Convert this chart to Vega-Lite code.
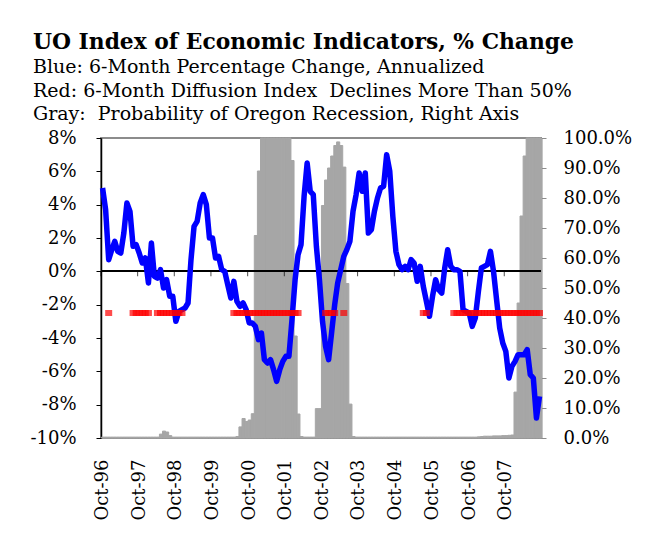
{
  "$schema": "https://vega.github.io/schema/vega-lite/v6.json",
  "autosize": {"type": "none"},
  "width": 440,
  "height": 300,
  "padding": {"left": 101, "top": 138, "right": 111, "bottom": 95},
  "background": "white",
  "config": {
    "view": {"stroke": "#8c8c8c", "strokeWidth": 2},
    "font": "DejaVu Serif",
    "axis": {"labelFont": "DejaVu Serif", "labelFontSize": 18, "labelColor": "black", "grid": false}
  },
  "title": {
    "text": "UO Index of Economic Indicators, % Change",
    "subtitle": ["Blue: 6-Month Percentage Change, Annualized", "Red: 6-Month Diffusion Index\u00a0 Declines More Than 50%", "Gray:\u00a0 Probability of Oregon Recession, Right Axis"],
    "anchor": "start",
    "frame": "group",
    "dx": -68,
    "offset": 5,
    "font": "DejaVu Serif",
    "fontSize": 21.8,
    "fontWeight": "bold",
    "color": "black",
    "subtitleFont": "DejaVu Serif",
    "subtitleFontSize": 19,
    "subtitleColor": "black",
    "subtitleLineHeight": 23.4,
    "subtitlePadding": 4
  },
  "data": {
    "format": {"parse": {"month": "date:'%Y-%m'"}},
    "values": [
      {"month": "1996-10", "growth": 5.0, "prob": 0.3},
      {"month": "1996-11", "growth": 3.7, "prob": 0.3},
      {"month": "1996-12", "growth": 0.7, "prob": 0.3, "red": -2.5},
      {"month": "1997-01", "growth": 1.3, "prob": 0.3},
      {"month": "1997-02", "growth": 1.8, "prob": 0.3},
      {"month": "1997-03", "growth": 1.2, "prob": 0.3},
      {"month": "1997-04", "growth": 1.1, "prob": 0.3},
      {"month": "1997-05", "growth": 2.3, "prob": 0.3},
      {"month": "1997-06", "growth": 4.1, "prob": 0.3},
      {"month": "1997-07", "growth": 3.6, "prob": 0.3},
      {"month": "1997-08", "growth": 1.5, "prob": 0.3, "red": -2.5},
      {"month": "1997-09", "growth": 1.6, "prob": 0.3, "red": -2.5},
      {"month": "1997-10", "growth": 1.1, "prob": 0.3, "red": -2.5},
      {"month": "1997-11", "growth": 0.5, "prob": 0.3, "red": -2.5},
      {"month": "1997-12", "growth": 0.8, "prob": 0.3, "red": -2.5},
      {"month": "1998-01", "growth": -0.7, "prob": 0.3, "red": -2.5},
      {"month": "1998-02", "growth": 1.7, "prob": 0.3},
      {"month": "1998-03", "growth": -0.3, "prob": 0.3},
      {"month": "1998-04", "growth": -0.4, "prob": 0.3, "red": -2.5},
      {"month": "1998-05", "growth": 0.1, "prob": 1.3, "red": -2.5},
      {"month": "1998-06", "growth": -1.0, "prob": 2.3, "red": -2.5},
      {"month": "1998-07", "growth": -0.5, "prob": 2.0, "red": -2.5},
      {"month": "1998-08", "growth": -1.5, "prob": 0.8, "red": -2.5},
      {"month": "1998-09", "growth": -1.5, "prob": 0.3, "red": -2.5},
      {"month": "1998-10", "growth": -3.0, "prob": 0.3, "red": -2.5},
      {"month": "1998-11", "growth": -2.4, "prob": 0.3, "red": -2.5},
      {"month": "1998-12", "growth": -2.3, "prob": 0.3, "red": -2.5},
      {"month": "1999-01", "growth": -2.2, "prob": 0.3},
      {"month": "1999-02", "growth": -1.9, "prob": 0.3},
      {"month": "1999-03", "growth": 0.7, "prob": 0.3},
      {"month": "1999-04", "growth": 2.7, "prob": 0.3},
      {"month": "1999-05", "growth": 3.0, "prob": 0.3},
      {"month": "1999-06", "growth": 4.1, "prob": 0.3},
      {"month": "1999-07", "growth": 4.6, "prob": 0.3},
      {"month": "1999-08", "growth": 4.0, "prob": 0.3},
      {"month": "1999-09", "growth": 2.0, "prob": 0.3},
      {"month": "1999-10", "growth": 2.0, "prob": 0.3},
      {"month": "1999-11", "growth": 0.8, "prob": 0.3},
      {"month": "1999-12", "growth": 0.9, "prob": 0.3},
      {"month": "2000-01", "growth": 0.1, "prob": 0.3},
      {"month": "2000-02", "growth": 0.0, "prob": 0.3},
      {"month": "2000-03", "growth": -0.8, "prob": 0.3},
      {"month": "2000-04", "growth": -1.6, "prob": 0.3},
      {"month": "2000-05", "growth": -0.6, "prob": 0.3, "red": -2.5},
      {"month": "2000-06", "growth": -1.8, "prob": 0.5, "red": -2.5},
      {"month": "2000-07", "growth": -2.1, "prob": 3.7, "red": -2.5},
      {"month": "2000-08", "growth": -1.9, "prob": 6.5, "red": -2.5},
      {"month": "2000-09", "growth": -2.3, "prob": 5.5, "red": -2.5},
      {"month": "2000-10", "growth": -3.1, "prob": 6.0, "red": -2.5},
      {"month": "2000-11", "growth": -3.1, "prob": 8.1, "red": -2.5},
      {"month": "2000-12", "growth": -3.3, "prob": 67.5, "red": -2.5},
      {"month": "2001-01", "growth": -4.1, "prob": 89.0, "red": -2.5},
      {"month": "2001-02", "growth": -3.7, "prob": 100.0, "red": -2.5},
      {"month": "2001-03", "growth": -5.3, "prob": 100.0, "red": -2.5},
      {"month": "2001-04", "growth": -5.5, "prob": 100.0, "red": -2.5},
      {"month": "2001-05", "growth": -5.3, "prob": 100.0, "red": -2.5},
      {"month": "2001-06", "growth": -5.9, "prob": 100.0, "red": -2.5},
      {"month": "2001-07", "growth": -6.6, "prob": 100.0, "red": -2.5},
      {"month": "2001-08", "growth": -5.9, "prob": 100.0, "red": -2.5},
      {"month": "2001-09", "growth": -5.4, "prob": 100.0, "red": -2.5},
      {"month": "2001-10", "growth": -5.1, "prob": 100.0, "red": -2.5},
      {"month": "2001-11", "growth": -5.1, "prob": 100.0, "red": -2.5},
      {"month": "2001-12", "growth": -2.9, "prob": 92.5, "red": -2.5},
      {"month": "2002-01", "growth": -0.5, "prob": 34.0, "red": -2.5},
      {"month": "2002-02", "growth": 1.0, "prob": 8.0, "red": -2.5},
      {"month": "2002-03", "growth": 1.6, "prob": 0.5},
      {"month": "2002-04", "growth": 4.5, "prob": 0.3},
      {"month": "2002-05", "growth": 6.5, "prob": 0.3},
      {"month": "2002-06", "growth": 4.8, "prob": 0.3},
      {"month": "2002-07", "growth": 4.6, "prob": 0.3},
      {"month": "2002-08", "growth": 1.5, "prob": 9.8},
      {"month": "2002-09", "growth": -0.5, "prob": 9.8},
      {"month": "2002-10", "growth": -3.0, "prob": 77.5},
      {"month": "2002-11", "growth": -4.5, "prob": 86.0, "red": -2.5},
      {"month": "2002-12", "growth": -5.3, "prob": 90.0, "red": -2.5},
      {"month": "2003-01", "growth": -3.6, "prob": 94.0, "red": -2.5},
      {"month": "2003-02", "growth": -2.0, "prob": 97.5, "red": -2.5},
      {"month": "2003-03", "growth": -0.7, "prob": 98.7},
      {"month": "2003-04", "growth": 0.1, "prob": 97.5},
      {"month": "2003-05", "growth": 0.9, "prob": 90.3, "red": -2.5},
      {"month": "2003-06", "growth": 1.3, "prob": 51.5},
      {"month": "2003-07", "growth": 1.8, "prob": 11.3},
      {"month": "2003-08", "growth": 3.6, "prob": 0.5},
      {"month": "2003-09", "growth": 4.6, "prob": 0.3},
      {"month": "2003-10", "growth": 5.9, "prob": 0.3},
      {"month": "2003-11", "growth": 4.8, "prob": 0.3},
      {"month": "2003-12", "growth": 5.9, "prob": 0.3},
      {"month": "2004-01", "growth": 2.3, "prob": 0.3},
      {"month": "2004-02", "growth": 2.5, "prob": 0.3},
      {"month": "2004-03", "growth": 3.6, "prob": 0.3},
      {"month": "2004-04", "growth": 4.4, "prob": 0.3},
      {"month": "2004-05", "growth": 5.0, "prob": 0.3},
      {"month": "2004-06", "growth": 5.1, "prob": 0.3},
      {"month": "2004-07", "growth": 7.0, "prob": 0.3},
      {"month": "2004-08", "growth": 6.0, "prob": 0.3},
      {"month": "2004-09", "growth": 3.3, "prob": 0.3},
      {"month": "2004-10", "growth": 1.2, "prob": 0.3},
      {"month": "2004-11", "growth": 0.4, "prob": 0.3},
      {"month": "2004-12", "growth": 0.1, "prob": 0.3},
      {"month": "2005-01", "growth": 0.3, "prob": 0.3},
      {"month": "2005-02", "growth": 0.1, "prob": 0.3},
      {"month": "2005-03", "growth": 0.7, "prob": 0.3},
      {"month": "2005-04", "growth": 0.5, "prob": 0.3},
      {"month": "2005-05", "growth": -0.6, "prob": 0.3},
      {"month": "2005-06", "growth": 0.3, "prob": 0.3},
      {"month": "2005-07", "growth": -0.9, "prob": 0.3, "red": -2.5},
      {"month": "2005-08", "growth": -1.8, "prob": 0.3, "red": -2.5},
      {"month": "2005-09", "growth": -2.7, "prob": 0.3},
      {"month": "2005-10", "growth": -1.5, "prob": 0.3},
      {"month": "2005-11", "growth": -0.5, "prob": 0.3},
      {"month": "2005-12", "growth": -1.1, "prob": 0.3},
      {"month": "2006-01", "growth": -1.3, "prob": 0.3},
      {"month": "2006-02", "growth": 0.2, "prob": 0.3},
      {"month": "2006-03", "growth": 1.3, "prob": 0.3},
      {"month": "2006-04", "growth": 0.3, "prob": 0.3},
      {"month": "2006-05", "growth": 0.1, "prob": 0.3, "red": -2.5},
      {"month": "2006-06", "growth": 0.1, "prob": 0.3, "red": -2.5},
      {"month": "2006-07", "growth": 0.0, "prob": 0.3, "red": -2.5},
      {"month": "2006-08", "growth": -2.3, "prob": 0.3, "red": -2.5},
      {"month": "2006-09", "growth": -2.4, "prob": 0.3, "red": -2.5},
      {"month": "2006-10", "growth": -2.5, "prob": 0.3, "red": -2.5},
      {"month": "2006-11", "growth": -3.3, "prob": 0.3, "red": -2.5},
      {"month": "2006-12", "growth": -2.8, "prob": 0.3, "red": -2.5},
      {"month": "2007-01", "growth": -1.2, "prob": 0.4, "red": -2.5},
      {"month": "2007-02", "growth": 0.2, "prob": 0.5, "red": -2.5},
      {"month": "2007-03", "growth": 0.3, "prob": 0.6, "red": -2.5},
      {"month": "2007-04", "growth": 0.4, "prob": 0.6, "red": -2.5},
      {"month": "2007-05", "growth": 1.2, "prob": 0.6, "red": -2.5},
      {"month": "2007-06", "growth": 0.0, "prob": 0.7, "red": -2.5},
      {"month": "2007-07", "growth": -1.7, "prob": 0.7, "red": -2.5},
      {"month": "2007-08", "growth": -3.4, "prob": 0.7, "red": -2.5},
      {"month": "2007-09", "growth": -4.3, "prob": 0.8, "red": -2.5},
      {"month": "2007-10", "growth": -4.8, "prob": 0.8, "red": -2.5},
      {"month": "2007-11", "growth": -6.4, "prob": 0.9, "red": -2.5},
      {"month": "2007-12", "growth": -5.7, "prob": 1.0, "red": -2.5},
      {"month": "2008-01", "growth": -5.4, "prob": 15.3, "red": -2.5},
      {"month": "2008-02", "growth": -5.0, "prob": 45.0, "red": -2.5},
      {"month": "2008-03", "growth": -5.0, "prob": 74.0, "red": -2.5},
      {"month": "2008-04", "growth": -5.0, "prob": 94.0, "red": -2.5},
      {"month": "2008-05", "growth": -4.7, "prob": 100.0, "red": -2.5},
      {"month": "2008-06", "growth": -6.2, "prob": 100.0, "red": -2.5},
      {"month": "2008-07", "growth": -6.4, "prob": 100.0, "red": -2.5},
      {"month": "2008-08", "growth": -8.8, "prob": 100.0, "red": -2.5},
      {"month": "2008-09", "growth": -7.5, "prob": 100.0, "red": -2.5}
    ]
  },
  "layer": [
    {
      "mark": {"type": "bar", "color": "#a6a6a6", "binSpacing": 0, "stroke": "#a6a6a6", "strokeWidth": 1},
      "encoding": {
        "x": {
          "field": "month", "timeUnit": "yearmonth", "type": "temporal",
          "scale": {"domain": [{"year": 1996, "month": 10, "date": 1}, {"year": 2008, "month": 10, "date": 1}]},
          "axis": {
            "orient": "bottom",
            "values": [
              {"year": 1996, "month": 10, "date": 15}, {"year": 1997, "month": 10, "date": 15}, {"year": 1998, "month": 10, "date": 15},
              {"year": 1999, "month": 10, "date": 15}, {"year": 2000, "month": 10, "date": 15}, {"year": 2001, "month": 10, "date": 15},
              {"year": 2002, "month": 10, "date": 15}, {"year": 2003, "month": 10, "date": 15}, {"year": 2004, "month": 10, "date": 15},
              {"year": 2005, "month": 10, "date": 15}, {"year": 2006, "month": 10, "date": 15}, {"year": 2007, "month": 10, "date": 15}
            ],
            "format": "%b-%y",
            "labelAngle": -90,
            "labelAlign": "right",
            "labelBaseline": "middle",
            "labelPadding": 21,
            "labelOverlap": false,
            "labelFlush": false,
            "labelBound": false,
            "domain": false,
            "ticks": false,
            "title": null
          }
        },
        "y": {
          "field": "prob", "type": "quantitative",
          "scale": {"domain": [0, 100], "nice": false},
          "axis": {
            "orient": "right",
            "values": [0, 10, 20, 30, 40, 50, 60, 70, 80, 90, 100],
            "labelExpr": "format(datum.value, '.1f') + '%'",
            "domainColor": "#8c8c8c",
            "domainWidth": 2,
            "tickColor": "#8c8c8c",
            "tickSize": 5,
            "labelPadding": 17,
            "title": null
          }
        }
      }
    },
    {
      "mark": {"type": "rule", "color": "black", "strokeWidth": 1},
      "encoding": {
        "y": {"datum": 0, "type": "quantitative", "scale": {"domain": [-10, 8], "nice": false, "zero": false}, "axis": null}
      }
    },
    {
      "transform": [{"filter": "month(datum.month) == 9"}],
      "mark": {"type": "tick", "orient": "vertical", "color": "black", "thickness": 1, "size": 5, "yOffset": 2.5},
      "encoding": {
        "x": {"field": "month", "timeUnit": "yearmonth", "type": "temporal", "bandPosition": 0, "axis": null},
        "y": {"datum": 0, "type": "quantitative", "scale": {"domain": [-10, 8], "nice": false, "zero": false}, "axis": null}
      }
    },
    {
      "mark": {"type": "line", "color": "#0000ff", "strokeWidth": 5.5, "strokeJoin": "round"},
      "encoding": {
        "x": {"field": "month", "timeUnit": "yearmonth", "type": "temporal", "bandPosition": 0.5, "axis": null},
        "y": {
          "field": "growth", "type": "quantitative",
          "scale": {"domain": [-10, 8], "nice": false, "zero": false},
          "axis": {
            "orient": "left",
            "values": [-10, -8, -6, -4, -2, 0, 2, 4, 6, 8],
            "labelExpr": "(datum.value < 0 ? '-' : '') + abs(datum.value) + '%'",
            "domainColor": "black",
            "domainWidth": 1.5,
            "tickColor": "black",
            "tickSize": 5,
            "labelPadding": 20,
            "title": null
          }
        }
      }
    },
    {
      "mark": {"type": "tick", "orient": "horizontal", "color": "#ff0000", "thickness": 6, "size": 7},
      "encoding": {
        "x": {"field": "month", "timeUnit": "yearmonth", "type": "temporal", "bandPosition": 0.5, "axis": null},
        "y": {"field": "red", "type": "quantitative", "scale": {"domain": [-10, 8], "nice": false, "zero": false}, "axis": null}
      }
    }
  ],
  "resolve": {"scale": {"y": "independent"}, "axis": {"x": "independent", "y": "independent"}}
}
